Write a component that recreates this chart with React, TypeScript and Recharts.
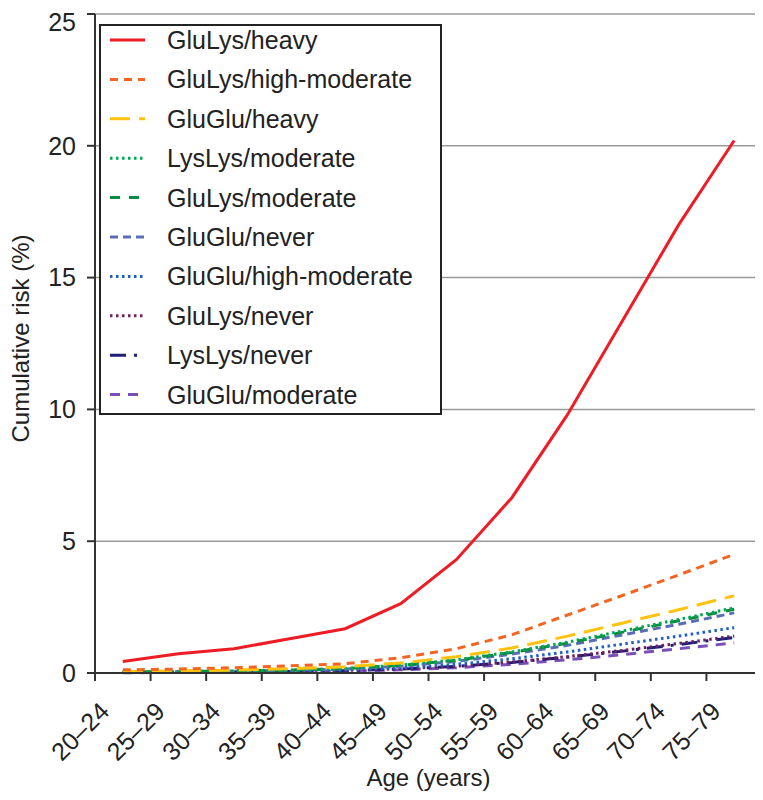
import React from 'react';
import { LineChart, Line, XAxis, YAxis, CartesianGrid, Legend } from 'recharts';

const ageGroups = ['20–24', '25–29', '30–34', '35–39', '40–44', '45–49', '50–54', '55–59', '60–64', '65–69', '70–74', '75–79'];
const yTicks = [0, 5, 10, 15, 20, 25];

const gluLysHeavy = [0.44, 0.73, 0.92, 1.3, 1.68, 2.63, 4.3, 6.65, 9.8, 13.4, 17.0, 20.2];
const gluLysHighModerate = [0.12, 0.15, 0.2, 0.27, 0.35, 0.58, 0.92, 1.45, 2.2, 2.95, 3.72, 4.5];
const gluGluHeavy = [0.05, 0.08, 0.11, 0.16, 0.24, 0.38, 0.62, 0.95, 1.4, 1.9, 2.4, 2.93];
const lysLysModerate = [0.04, 0.06, 0.08, 0.11, 0.17, 0.3, 0.5, 0.8, 1.17, 1.6, 2.03, 2.47];
const gluLysModerate = [0.04, 0.06, 0.08, 0.11, 0.17, 0.29, 0.48, 0.78, 1.13, 1.55, 1.98, 2.42];
const gluGluNever = [0.03, 0.05, 0.07, 0.1, 0.15, 0.26, 0.44, 0.72, 1.05, 1.45, 1.85, 2.28];
const gluGluHighModerate = [0.03, 0.04, 0.06, 0.08, 0.12, 0.2, 0.33, 0.54, 0.8, 1.1, 1.4, 1.72];
const gluLysNever = [0.02, 0.03, 0.05, 0.07, 0.1, 0.16, 0.26, 0.42, 0.62, 0.86, 1.12, 1.4];
const lysLysNever = [0.02, 0.03, 0.04, 0.06, 0.09, 0.15, 0.25, 0.4, 0.6, 0.83, 1.08, 1.35];
const gluGluModerate = [0.01, 0.02, 0.03, 0.05, 0.07, 0.12, 0.2, 0.33, 0.5, 0.7, 0.92, 1.14];

const seriesNames = [
  'GluLys/heavy',
  'GluLys/high-moderate',
  'GluGlu/heavy',
  'LysLys/moderate',
  'GluLys/moderate',
  'GluGlu/never',
  'GluGlu/high-moderate',
  'GluLys/never',
  'LysLys/never',
  'GluGlu/moderate',
];
const seriesValues = [
  gluLysHeavy,
  gluLysHighModerate,
  gluGluHeavy,
  lysLysModerate,
  gluLysModerate,
  gluGluNever,
  gluGluHighModerate,
  gluLysNever,
  lysLysNever,
  gluGluModerate,
];
const seriesColors = ['#ee1c25', '#f26522', '#ffc20e', '#00a651', '#0a8a3e', '#5b6cb8', '#1f5fc4', '#6e1f5c', '#1b1f7a', '#7a50b8'];
const seriesDash = ['0', '8 6', '20 9', '2.5 3.5', '10 9', '8 5', '2.5 3.5', '2.5 3.5', '16 8 3 8', '10 8'];

const data = ageGroups.map((age, i) => {
  const row: Record<string, string | number> = { age };
  seriesNames.forEach((name, s) => {
    row[name] = seriesValues[s][i];
  });
  return row;
});

const FONT = '"Liberation Sans", Arial, Helvetica, sans-serif';
const TEXT = '#222';
const AXIS = '#333';

const XTick = (props: any) => {
  const { x, y, payload, index } = props;
  const off = payload && payload.offset ? payload.offset : 27.8;
  const last = index === ageGroups.length - 1;
  return (
    <g>
      <line x1={x - off} x2={x - off} y1={y} y2={y + 8} stroke={AXIS} strokeWidth={2} />
      {last && <line x1={x + off} x2={x + off} y1={y} y2={y + 8} stroke={AXIS} strokeWidth={2} />}
      <text
        transform={`translate(${x - 12},${y + 40}) rotate(-45)`}
        textAnchor="end"
        fontSize={25}
        fontFamily={FONT}
        fill={TEXT}
      >
        {payload.value}
      </text>
    </g>
  );
};

const LegendBox = () => {
  const w = 343;
  const h = 391;
  const rowH = 39.4;
  return (
    <svg width={w} height={h} style={{ display: 'block' }}>
      <rect x={1} y={1} width={w - 2} height={h - 2} fill="#fff" stroke="#222" strokeWidth={2} />
      {seriesNames.map((name, i) => {
        const cy = 16 + rowH * i;
        return (
          <g key={name}>
            <line
              x1={11}
              x2={46}
              y1={cy}
              y2={cy}
              stroke={seriesColors[i]}
              strokeWidth={3}
              strokeDasharray={seriesDash[i]}
            />
            <text x={68} y={cy} dominantBaseline="central" fontSize={25} fontFamily={FONT} fill={TEXT}>
              {name}
            </text>
          </g>
        );
      })}
    </svg>
  );
};

export default function App() {
  return (
    <div style={{ width: 755, height: 792, fontFamily: FONT }}>
      <LineChart width={755} height={792} data={data} margin={{ top: 6, right: 1, bottom: 0, left: 0 }}>
        <CartesianGrid horizontal vertical={false} stroke="#999" strokeWidth={1.5} />
        <XAxis
          dataKey="age"
          scale="band"
          height={127}
          interval={0}
          tickLine={false}
          tickSize={0}
          tickMargin={0}
          axisLine={{ stroke: AXIS, strokeWidth: 2 }}
          tick={<XTick />}
          label={{
            value: 'Age (years)',
            position: 'insideBottom',
            offset: 14,
            fontSize: 24,
            fontFamily: FONT,
            fill: TEXT,
          }}
        />
        <YAxis
          domain={[0, 25]}
          ticks={yTicks}
          width={87}
          tickSize={8}
          tickMargin={11}
          axisLine={{ stroke: AXIS, strokeWidth: 2 }}
          tickLine={{ stroke: AXIS, strokeWidth: 2 }}
          tick={{ fontSize: 25, fontFamily: FONT, fill: TEXT }}
          label={({ viewBox }: any) => {
            const cx = viewBox.x + 12;
            const cy = viewBox.y + viewBox.height / 2 - 5;
            return (
              <text
                x={cx}
                y={cy}
                transform={`rotate(-90 ${cx} ${cy})`}
                textAnchor="middle"
                dominantBaseline="central"
                fontSize={24}
                fontFamily={FONT}
                fill={TEXT}
              >
                Cumulative risk (%)
              </text>
            );
          }}
        />
        <Legend
          layout="vertical"
          align="center"
          verticalAlign="middle"
          wrapperStyle={{ left: 91, top: 16, width: 343, height: 391 }}
          content={<LegendBox />}
        />
        {seriesNames
          .map((name, i) => (
            <Line
              key={name}
              type="linear"
              dataKey={name}
              stroke={seriesColors[i]}
              strokeWidth={3}
              strokeDasharray={seriesDash[i]}
              dot={false}
              activeDot={false}
              isAnimationActive={false}
            />
          ))
          .reverse()}
      </LineChart>
    </div>
  );
}
